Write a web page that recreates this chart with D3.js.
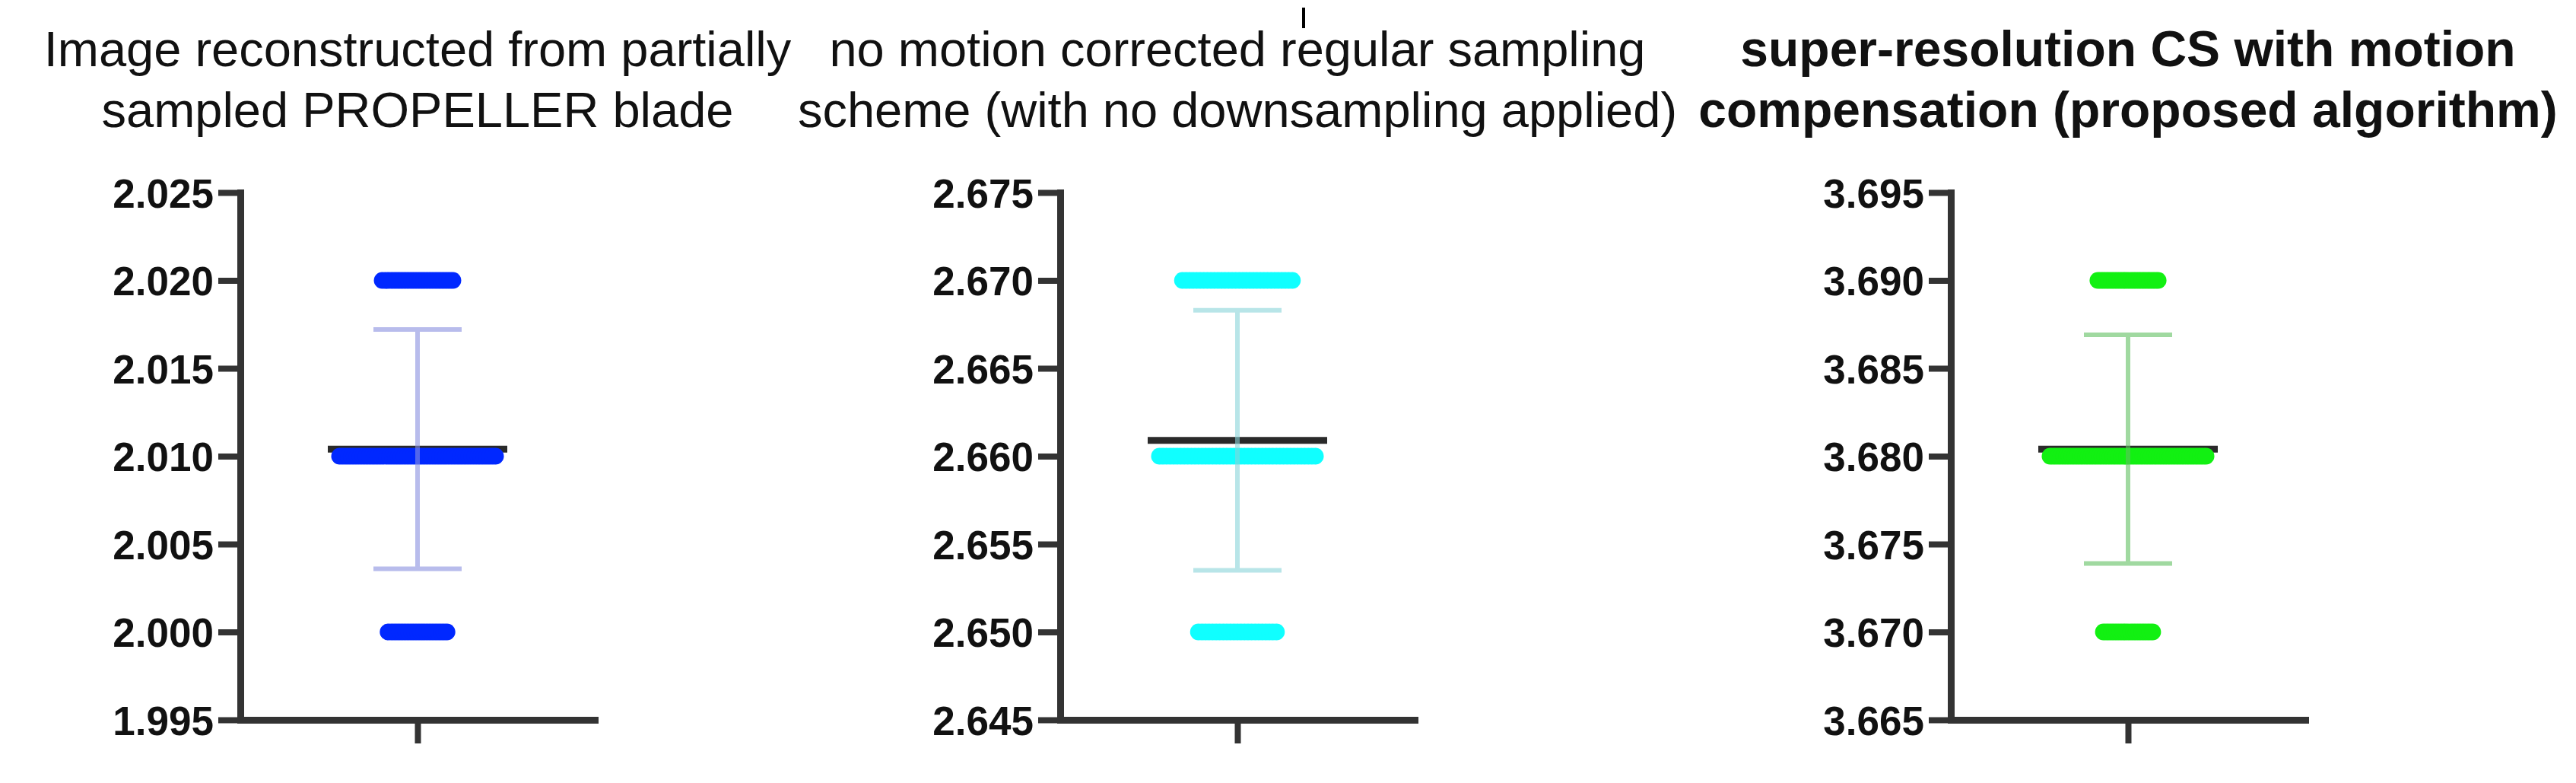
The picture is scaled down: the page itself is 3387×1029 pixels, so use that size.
<!DOCTYPE html>
<html lang="en">
<head>
<meta charset="UTF-8">
<title>Scatter dot plots – image quality comparison</title>
<script src="https://cdn.jsdelivr.net/npm/d3@7.8.5/dist/d3.min.js"></script>
<style>
  * { margin: 0; padding: 0; box-sizing: border-box; }
  body {
    background: #ffffff;
    width: 3387px;
    height: 1029px;
    overflow: hidden;
    font-family: 'Liberation Sans', Arial, Helvetica, sans-serif;
  }
  svg { display: block; }
  .axis path, .axis line { stroke: #333333; }
  .axis text {
    fill: #111111;
    font-family: 'Liberation Sans', Arial, Helvetica, sans-serif;
    font-weight: 700;
    font-size: 53px;
  }
  .title {
    fill: #111111;
    font-family: 'Liberation Sans', Arial, Helvetica, sans-serif;
  }
</style>
</head>
<body>
<div id="chart"></div>
<script>
// ---- data ----
const panelTitles = [
  ["Image reconstructed from partially", "sampled PROPELLER blade"],
  ["no motion corrected regular sampling", "scheme (with no downsampling applied)"],
  ["super-resolution CS with motion", "compensation (proposed algorithm)"]
];
const titleBold = [false, false, true];

// discrete values and how many points sit on each
const levelsBlade = [2.000, 2.010, 2.020];
const countsBlade = [21, 54, 25];
const levelsRegular = [2.650, 2.660, 2.670];
const countsRegular = [23, 45, 32];
const levelsProposed = [3.670, 3.680, 3.690];
const countsProposed = [19, 58, 23];

const ticksBlade = [1.995, 2.000, 2.005, 2.010, 2.015, 2.020, 2.025];
const ticksRegular = [2.645, 2.650, 2.655, 2.660, 2.665, 2.670, 2.675];
const ticksProposed = [3.665, 3.670, 3.675, 3.680, 3.685, 3.690, 3.695];

const dotColors = ["#0028ff", "#10ffff", "#12f012"];
const errColors = ["#8890e0", "#88d4d8", "#60c060"];

// ---- layout ----
const W = 3387, H = 1029;
const plotTop = 253, plotBottom = 946;
const panelLeft = [316, 1394, 2565];
const panelWidth = 466;
const dotR = 11;
const maxSpread = 205;   // widest scatter row
const meanLen = 236;
const capLen = 116;

const panels = [
  { levels: levelsBlade, counts: countsBlade, ticks: ticksBlade },
  { levels: levelsRegular, counts: countsRegular, ticks: ticksRegular },
  { levels: levelsProposed, counts: countsProposed, ticks: ticksProposed }
];

const svg = d3.select("#chart").append("svg")
  .attr("width", W)
  .attr("height", H);

panels.forEach((p, i) => {
  const g = svg.append("g");

  const y = d3.scaleLinear()
    .domain([p.ticks[0], p.ticks[p.ticks.length - 1]])
    .range([plotBottom, plotTop]);

  const x = d3.scalePoint()
    .domain(["col"])
    .range([panelLeft[i], panelLeft[i] + panelWidth])
    .padding(0.5);
  const cx = x("col");

  // all the points
  const values = p.levels.flatMap((v, k) => d3.range(p.counts[k]).map(() => v));
  const mean = d3.mean(values);
  const sd = d3.deviation(values);

  // title
  const t = g.append("text")
    .attr("class", "title")
    .attr("text-anchor", "middle")
    .style("font-size", titleBold[i] ? "66px" : "65px")
    .style("font-weight", titleBold[i] ? 700 : 400);
  panelTitles[i].forEach((line, k) => {
    t.append("tspan")
      .attr("x", cx)
      .attr("y", 87 + k * 80)
      .text(line);
  });

  // mean line
  g.append("line")
    .attr("x1", cx - meanLen / 2)
    .attr("x2", cx + meanLen / 2)
    .attr("y1", y(mean))
    .attr("y2", y(mean))
    .attr("stroke", "#2a2a2a")
    .attr("stroke-width", 9);

  // scatter dots, spread sideways like a column scatter
  const maxCount = d3.max(p.counts);
  const step = maxSpread / (maxCount - 1);
  const dots = [];
  p.levels.forEach((v, k) => {
    const n = p.counts[k];
    for (let j = 0; j < n; j++) {
      dots.push({ value: v, off: (j - (n - 1) / 2) * step });
    }
  });
  g.selectAll("circle.dot")
    .data(dots)
    .enter()
    .append("circle")
    .attr("class", "dot")
    .attr("cx", d => cx + d.off)
    .attr("cy", d => y(d.value))
    .attr("r", dotR)
    .attr("fill", dotColors[i]);

  // SD error bar
  const yHi = y(mean + sd), yLo = y(mean - sd);
  g.append("path")
    .attr("d", `M${cx - capLen / 2},${yHi}H${cx + capLen / 2}M${cx},${yHi}V${yLo}M${cx - capLen / 2},${yLo}H${cx + capLen / 2}`)
    .attr("fill", "none")
    .attr("stroke", errColors[i])
    .attr("stroke-width", 6)
    .attr("stroke-opacity", 0.6);

  // y axis
  const yAxis = g.append("g")
    .attr("class", "axis")
    .attr("transform", `translate(${panelLeft[i]},0)`)
    .call(d3.axisLeft(y)
      .tickValues(p.ticks)
      .tickFormat(d3.format(".3f"))
      .tickSize(29)
      .tickSizeOuter(0)
      .tickPadding(6));
  yAxis.select(".domain").attr("stroke-width", 9).attr("stroke-linecap", "square");
  yAxis.selectAll(".tick line").attr("stroke-width", 8);
  yAxis.selectAll(".tick text").attr("dy", "0.36em");

  // x axis
  const xAxis = g.append("g")
    .attr("class", "axis")
    .attr("transform", `translate(0,${plotBottom})`)
    .call(d3.axisBottom(x)
      .tickSize(31)
      .tickSizeOuter(0)
      .tickFormat(""));
  xAxis.select(".domain").attr("stroke-width", 9).attr("stroke-linecap", "square");
  xAxis.selectAll(".tick line").attr("stroke-width", 8);
});

// small stray mark above the second title
svg.append("line")
  .attr("x1", 1714).attr("x2", 1714)
  .attr("y1", 10).attr("y2", 37)
  .attr("stroke", "#000")
  .attr("stroke-width", 4);
</script>
</body>
</html>
